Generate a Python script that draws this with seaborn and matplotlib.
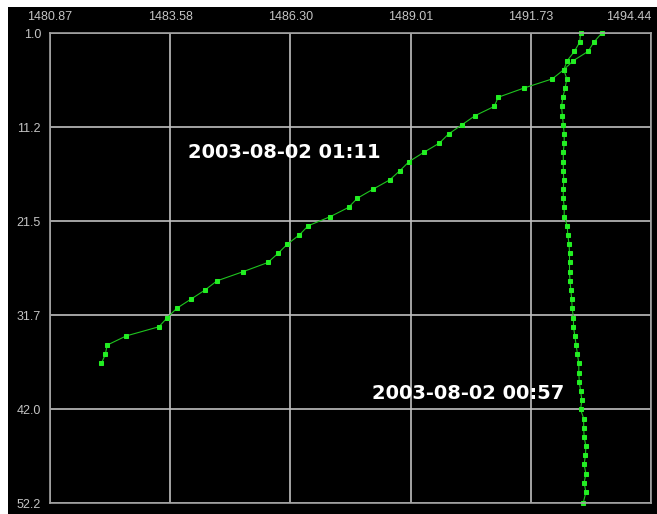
import numpy as np
import pandas as pd
import seaborn as sns
import matplotlib.pyplot as plt
from matplotlib.patches import Rectangle

# sound speed profiles (x = speed, y = depth)
x_ticklabels = ["1480.87", "1483.58", "1486.30", "1489.01", "1491.73", "1494.44"]
y_ticklabels = ["1.0", "11.2", "21.5", "31.7", "42.0", "52.2"]

depth_0111 = list(range(1, 38))
speed_0111 = [1493.33, 1493.15, 1493.02, 1492.69, 1492.47, 1492.21, 1491.57, 1490.99,
              1490.90, 1490.47, 1490.17, 1489.87, 1489.66, 1489.31, 1488.98, 1488.77,
              1488.54, 1488.17, 1487.81, 1487.61, 1487.20, 1486.70, 1486.50, 1486.23,
              1486.02, 1485.79, 1485.23, 1484.64, 1484.37, 1484.05, 1483.73, 1483.52,
              1483.33, 1482.59, 1482.16, 1482.12, 1482.03]

depth_0057 = list(range(1, 52)) + [52.2]
speed_0057 = [1492.85, 1492.83, 1492.71, 1492.55, 1492.47, 1492.54, 1492.50, 1492.45,
              1492.42, 1492.44, 1492.46, 1492.48, 1492.48, 1492.46, 1492.46, 1492.46,
              1492.47, 1492.46, 1492.46, 1492.48, 1492.48, 1492.55, 1492.56, 1492.59,
              1492.60, 1492.60, 1492.60, 1492.61, 1492.63, 1492.65, 1492.66, 1492.69,
              1492.69, 1492.72, 1492.75, 1492.78, 1492.81, 1492.81, 1492.82, 1492.85,
              1492.88, 1492.85, 1492.92, 1492.92, 1492.93, 1492.97, 1492.96, 1492.93,
              1492.97, 1492.93, 1492.97, 1492.91]

df1 = pd.DataFrame({"speed": speed_0111, "depth": depth_0111})
df2 = pd.DataFrame({"speed": speed_0057, "depth": depth_0057})

sns.set_style("dark", rc={"axes.facecolor": "black", "figure.facecolor": "white"})
plt.rcParams['font.family'] = ['Liberation Sans', 'DejaVu Sans']

fig = plt.figure(figsize=(6.57, 5.14), dpi=100)
fig.add_artist(Rectangle((8 / 657, 0), 1 - 8 / 657, 507 / 514, transform=fig.transFigure,
                         facecolor="black", edgecolor="none", zorder=-10))
ax = fig.add_axes([50 / 657, 11 / 514, 601 / 657, 470 / 514])

line_kw = dict(color="#1fc41f", marker="s", markersize=3.2, linewidth=0.8,
               markerfacecolor="#22ee22", markeredgecolor="#22ee22",
               sort=False, estimator=None, clip_on=False, ax=ax)
sns.lineplot(data=df1, x="speed", y="depth", **line_kw)
sns.lineplot(data=df2, x="speed", y="depth", **line_kw)

xmin, xmax = float(x_ticklabels[0]), float(x_ticklabels[-1])
ymin, ymax = float(y_ticklabels[0]), float(y_ticklabels[-1])
ax.set_xlim(xmin, xmax)
ax.set_ylim(ymax, ymin)
ax.set_xticks(np.linspace(xmin, xmax, len(x_ticklabels)))
ax.set_xticklabels(x_ticklabels)
ax.set_yticks(np.linspace(ymin, ymax, len(y_ticklabels)))
ax.set_yticklabels(y_ticklabels)
ax.xaxis.tick_top()
ax.tick_params(axis="x", length=0, pad=7, labelsize=9, labelcolor="#c4c4c4")
ax.tick_params(axis="y", length=0, pad=6.5, labelsize=9, labelcolor="#c4c4c4")
# last top label would run off the figure edge: right-align it
ax.get_xticklabels()[-1].set_horizontalalignment("right")
ax.set_xlabel("")
ax.set_ylabel("")
ax.grid(True, color="#c0c0c0", linewidth=1.2)
for sp in ax.spines.values():
    sp.set_visible(True)
    sp.set_color("#a0a0a0")
    sp.set_linewidth(1.2)

ax.text(1483.99, 14.62, "2003-08-02 01:11", color="white", fontsize=14,
        fontweight="bold", family="DejaVu Sans", ha="left", va="baseline")
ax.text(1488.14, 40.87, "2003-08-02 00:57", color="white", fontsize=14,
        fontweight="bold", family="DejaVu Sans", ha="left", va="baseline")

fig.savefig("out.png", dpi=100)
